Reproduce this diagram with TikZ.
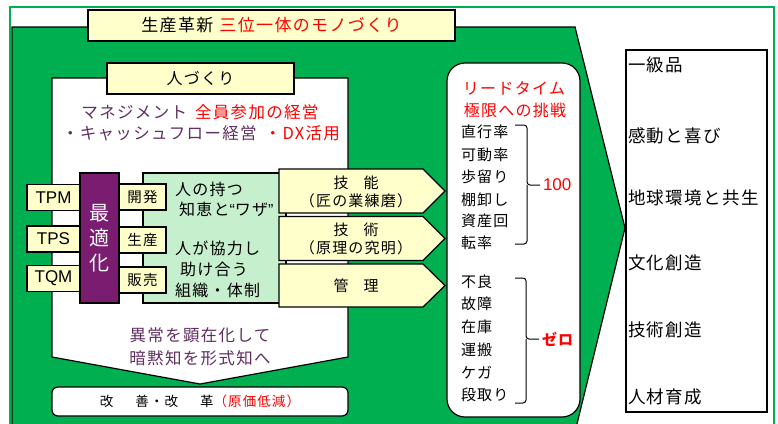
\documentclass[tikz,border=0pt]{standalone}
\usepackage{fontspec}
\setmainfont{Noto Sans CJK JP}[LetterSpace=8]
\newfontfamily\lat{Liberation Sans}
\definecolor{grn}{RGB}{0,176,80}
\definecolor{yel}{RGB}{255,255,204}
\definecolor{lgrn}{RGB}{198,239,206}
\definecolor{pbox}{RGB}{122,28,112}
\definecolor{ptxt}{RGB}{96,48,96}
\definecolor{rd}{RGB}{255,0,0}
\newcommand\fs[1]{\fontsize{#1}{#1}\selectfont}
\begin{document}
\begin{tikzpicture}[x=1pt,y=-1pt,line join=miter,
  box/.style={draw=black,line width=1.2pt,inner sep=0pt,outer sep=0pt},
  ybox/.style={box,fill=yel},
  txt/.style={inner sep=0pt,outer sep=0pt},
  lbox/.style={ybox,minimum width=53pt,minimum height=26pt,font=\lat\fs{17}},
  dbox/.style={ybox,minimum width=47pt,minimum height=26pt,font=\fs{14.5}},
  arrowbox/.style={draw=black,line width=1.2pt,fill=yel},
  item/.style={txt,anchor=west,font=\fs{15}},
  ritem/.style={txt,anchor=west,font=\fs{17.5}},
  brace/.style={draw=black,line width=1pt,rounded corners=3pt},
]
\useasboundingbox (0,0) rectangle (778,423);
\fill[white] (0,0) rectangle (778,423);
\draw[grn,line width=1.5pt] (10,7) rectangle (774,440);
\draw[fill=grn,line width=1.2pt] (12,27) -- (575,27) -- (625,228) -- (575,432) -- (12,432) -- cycle;

% title
\node[ybox,minimum width=367pt,minimum height=31pt,font=\fs{17}] (title) at (271.5,25.5)
  {生産革新\hspace{6pt}\textcolor{rd}{三位一体のモノづくり}};

% people area
\draw[fill=white,line width=1.2pt] (52,78) -- (348,78) -- (348,357) -- (200,384) -- (52,357) -- cycle;
\node[ybox,minimum width=187pt,minimum height=31pt,font=\fs{16}] (hito) at (200.5,78.5) {人づくり};
\node[txt,text=ptxt,font=\fs{16.5}] (m1) at (200,112) {マネジメント\hspace{8pt}\textcolor{rd}{全員参加の経営}};
\node[txt,text=ptxt,font=\fs{16.5}] (m2) at (201,133) {・キャッシュフロー経営\hspace{8pt}\textcolor{rd}{・DX活用}};

% light green box
\node[box,fill=lgrn,minimum width=143pt,minimum height=130pt] (chie) at (214.5,238) {};

% left boxes
\node[lbox] (tpm) at (53.5,197.5) {TPM};
\node[lbox] (tps) at (53.5,239) {TPS};
\node[lbox] (tqm) at (53.5,278.5) {TQM};
\node[box,fill=pbox,minimum width=39pt,minimum height=130pt,text=white,align=center,
  font=\fontsize{20}{25}\selectfont] (opt) at (99.5,238) {最\\適\\化};
\node[dbox] (kai) at (142.5,197) {開発};
\node[dbox] (sei) at (142.5,240) {生産};
\node[dbox] (han) at (142.5,280) {販売};

\node[txt,anchor=west,font=\fs{16}] (c1) at (175,189) {人の持つ};
\node[txt,anchor=west,font=\fs{16}] (c2) at (179,209) {知恵と{\lat “}ワザ{\lat ”}};
\node[txt,anchor=west,font=\fs{16}] (c3) at (175,248) {人が協力し};
\node[txt,anchor=west,font=\fs{16}] (c4) at (180,269) {助け合う};
\node[txt,anchor=west,font=\fs{16}] (c5) at (175,290) {組織・体制};

% arrows
\draw[arrowbox] (279,169) -- (423,169) -- (445,191) -- (423,213) -- (279,213) -- cycle;
\draw[arrowbox] (279,216.5) -- (423,216.5) -- (445,238.5) -- (423,260.5) -- (279,260.5) -- cycle;
\draw[arrowbox] (279,264) -- (423,264) -- (445,285.5) -- (423,307) -- (279,307) -- cycle;
\node[txt,font=\fs{15}] (a1a) at (356,183) {技\hspace{1em}能};
\node[txt,font=\fs{15}] (a1b) at (356,201) {（匠の業練磨）};
\node[txt,font=\fs{15}] (a2a) at (356,230) {技\hspace{1em}術};
\node[txt,font=\fs{15}] (a2b) at (356,248) {（原理の究明）};
\node[txt,font=\fs{15}] (a3) at (356,286) {管\hspace{1em}理};

% bottom
\node[txt,text=ptxt,font=\fs{16.5}] (ij1) at (200,335) {異常を顕在化して};
\node[txt,text=ptxt,font=\fs{16.5}] (ij2) at (200,358) {暗黙知を形式知へ};
\node[box,fill=white,rounded corners=6pt,minimum width=296pt,minimum height=29pt,font=\fs{13.5}] (kz) at (200,401.5)
  {改\hspace{22pt}善・改\hspace{22pt}革\textcolor{rd}{（原価低減）}};

% lead time box
\node[box,fill=white,rounded corners=18pt,minimum width=133pt,minimum height=354pt] (lt) at (513.5,240) {};
\node[txt,text=rd,font=\fs{16}] (lt1) at (514,88) {リードタイム};
\node[txt,text=rd,font=\fs{16}] (lt2) at (515,110) {極限への挑戦};
\node[item] (u1) at (461,132) {直行率};
\node[item] (u2) at (461,155) {可動率};
\node[item] (u3) at (461,177) {歩留り};
\node[item] (u4) at (461,200) {棚卸し};
\node[item] (u5) at (461,221) {資産回};
\node[item] (u6) at (461,243) {転率};
\node[txt,anchor=west,inner xsep=3pt,text=rd,font=\lat\fs{17}] (hund) at (540,185) {100};
\draw[brace] (515,125) -| (527,185) -- (hund.west);
\draw[brace] (515,244) -| (527,185);

\node[item] (d1) at (461,282) {不良};
\node[item] (d2) at (461,304) {故障};
\node[item] (d3) at (461,327) {在庫};
\node[item] (d4) at (461,350) {運搬};
\node[item] (d5) at (461,373) {ケガ};
\node[item] (d6) at (461,395) {段取り};
\node[txt,anchor=west,inner xsep=3pt,text=rd,font=\bfseries\fs{15}] (zero) at (539,339) {ゼロ};
\draw[brace] (515,278) -| (526,339) -- (zero.west);
\draw[brace] (515,403) -| (526,339);

% results
\node[box,fill=white,minimum width=141pt,minimum height=362pt] (res) at (696.5,231) {};
\node[ritem] (r1) at (628,65) {一級品};
\node[ritem] (r2) at (628,136) {感動と喜び};
\node[ritem] (r3) at (628,198) {地球環境と共生};
\node[ritem] (r4) at (628,263) {文化創造};
\node[ritem] (r5) at (628,330) {技術創造};
\node[ritem] (r6) at (628,397) {人材育成};
\end{tikzpicture}
\end{document}
